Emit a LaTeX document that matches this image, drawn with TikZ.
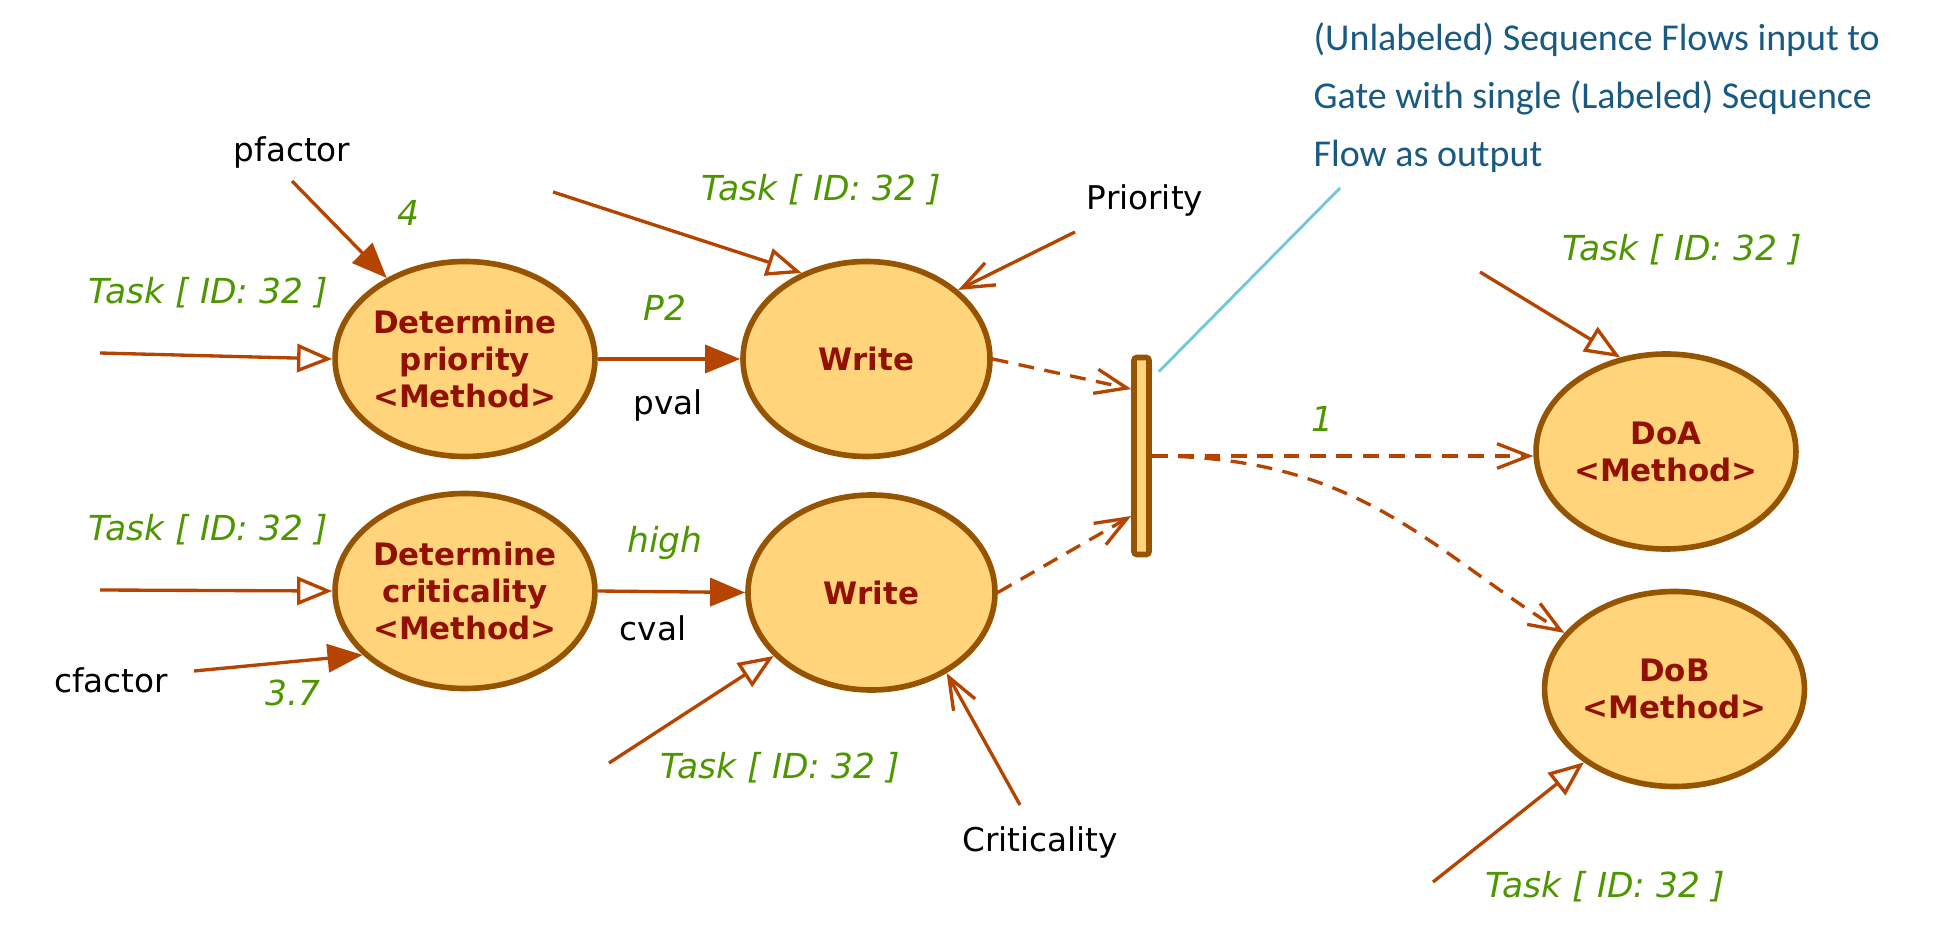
\documentclass[tikz,border=0pt]{standalone}
\usepackage{fontspec}
\setmainfont{DejaVu Sans}
\newfontfamily\notefont{Carlito}
\usetikzlibrary{arrows.meta,shapes.geometric}
\definecolor{flowc}{RGB}{180,68,0}
\definecolor{taskfill}{RGB}{255,212,122}
\definecolor{taskline}{RGB}{150,84,0}
\definecolor{taskname}{RGB}{145,16,0}
\definecolor{lblgreen}{RGB}{78,150,0}
\definecolor{notetext}{RGB}{25,90,130}
\definecolor{notestroke}{RGB}{110,200,215}

\begin{document}
\begin{tikzpicture}[
    task/.style={ellipse, draw=taskline, fill=taskfill, line width=1.6pt,
      minimum width=2.47cm, minimum height=1.95cm, inner sep=0pt, align=center,
      text=taskname, font=\fontsize{8.8}{10.5}\selectfont\bfseries},
    gatebar/.style={rectangle, draw=taskline, fill=taskfill, line width=1.6pt,
      minimum width=0.15cm, minimum height=1.97cm, inner sep=0pt, rounded corners=0.8pt},
    lbl/.style={inner sep=0pt, font=\fontsize{9.3}{11}\selectfont},
    val/.style={inner sep=0pt, text=lblgreen, font=\fontsize{9.8}{11}\selectfont\itshape},
    flow/.style={draw=flowc, line width=0.95pt},
    dataflow/.style={flow, -{Triangle[length=10pt,width=8pt]}},
    taskflow/.style={flow, -{Triangle[open,length=10pt,width=8pt]}},
    readflow/.style={flow, -{Straight Barb[length=9pt,width=7pt]}},
    seqflow/.style={readflow, dash pattern=on 4.5pt off 3pt}
  ]
  \useasboundingbox (0,0) rectangle (19.37,-9.27);

  \node[task] (detp) at (4.65,-3.59) {Determine\\priority\\<Method>};
  \node[task] (detc) at (4.65,-5.91) {Determine\\criticality\\<Method>};
  \node[task] (write1) at (8.665,-3.59) {Write};
  \node[task] (write2) at (8.715,-5.925) {Write};
  \node[task] (doa) at (16.66,-4.515) {DoA\\<Method>};
  \node[task] (dob) at (16.745,-6.89) {DoB\\<Method>};
  \node[gatebar] (gate) at (11.415,-4.56) {};

  \node[lbl] (pfactor) at (2.92,-1.52) {pfactor};
  \node[val] (pfval) at (4.08,-2.13) {4};
  \node[val] (tasklt) at (2.08,-2.93) {Task [ ID: 32 ]};
  \node[val] (ptwo) at (6.65,-3.08) {P2};
  \node[lbl] (pval) at (6.68,-4.05) {pval};
  \node[val] (tasktm) at (8.21,-1.90) {Task [ ID: 32 ]};
  \node[lbl] (priority) at (11.45,-2.00) {Priority};
  \node[val] (tasklb) at (2.08,-5.30) {Task [ ID: 32 ]};
  \node[val] (high) at (6.65,-5.43) {high};
  \node[lbl] (cval) at (6.53,-6.28) {cval};
  \node[lbl] (cfactor) at (1.11,-6.80) {cfactor};
  \node[val] (cfval) at (2.93,-6.93) {3.7};
  \node[val] (taskbm) at (7.80,-7.68) {Task [ ID: 32 ]};
  \node[lbl] (criticality) at (10.40,-8.42) {Criticality};
  \node[val] (one) at (13.22,-4.19) {1};
  \node[val] (taskrt) at (16.82,-2.50) {Task [ ID: 32 ]};
  \node[val] (taskrb) at (16.05,-8.87) {Task [ ID: 32 ]};
  \node[anchor=north west, inner sep=0pt, align=left, text=notetext,
    font=\notefont\fontsize{10.8}{16.5}\selectfont] (note) at (13.13,-0.22)
    {(Unlabeled) Sequence Flows input to\\Gate with single (Labeled) Sequence\\Flow as output};

  \coordinate (pfsrc) at (2.92,-1.81);
  \coordinate (ltsrc) at (1.00,-3.53);
  \coordinate (tmsrc) at (5.53,-1.92);
  \coordinate (prsrc) at (10.75,-2.32);
  \coordinate (lbsrc) at (1.00,-5.90);
  \coordinate (cfsrc) at (1.94,-6.71);
  \coordinate (bmsrc) at (6.09,-7.63);
  \coordinate (crsrc) at (10.20,-8.05);
  \coordinate (rtsrc) at (14.80,-2.72);
  \coordinate (rbsrc) at (14.33,-8.82);
  \coordinate (notetip) at (13.40,-1.88);

  \draw[dataflow] (pfsrc) -- (detp.134);
  \draw[taskflow] (ltsrc) -- (detp.west);
  \draw[dataflow] (detp.east) -- (write1.west);
  \draw[taskflow] (tmsrc) -- (write1.127);
  \draw[readflow] (prsrc) -- (write1.37);
  \draw[taskflow] (lbsrc) -- (detc.west);
  \draw[dataflow] (cfsrc) -- (detc.212);
  \draw[dataflow] (detc.east) -- (write2.west);
  \draw[taskflow] (bmsrc) -- (write2.213);
  \draw[readflow] (crsrc) -- (write2.313);
  \draw[taskflow] (rtsrc) -- (doa.116);
  \draw[taskflow] (rbsrc) -- (dob.219);

  \draw[seqflow] (write1.east) -- ([yshift=0.67cm]gate.west);
  \draw[seqflow] (write2.east) -- ([yshift=-0.6cm]gate.west);
  \draw[seqflow] (gate.east) -- (gate.east -| doa.west);
  \draw[seqflow] (gate.east) .. controls (13.6,-4.56) and (14.3,-5.5) .. (dob.153);

  \draw[notestroke, line width=0.8pt] (notetip) -- ([xshift=0.07cm,yshift=-0.17cm]gate.north east);
\end{tikzpicture}
\end{document}
